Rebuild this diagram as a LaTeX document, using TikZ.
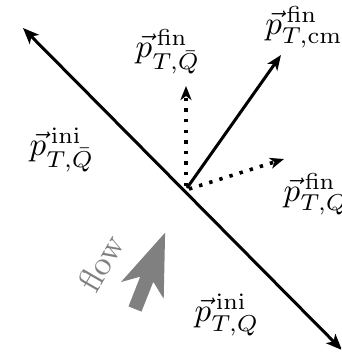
\documentclass[tikz,border=0pt]{standalone}
\usetikzlibrary{arrows.meta}
\definecolor{flowgray}{RGB}{128,128,128}
\tikzset{
  mainline/.style={line width=3pt, {Stealth[length=16pt,width=13pt,inset=4pt]}-{Stealth[length=16pt,width=13pt,inset=4pt]}},
  solidvec/.style={line width=3pt, -{Stealth[length=15pt,width=12pt,inset=4pt]}},
  dotvec/.style={line width=3.6pt, dash pattern=on 3.4pt off 7.2pt, -{Stealth[length=14pt,width=11pt,inset=4pt]}},
  lab/.style={inner sep=0pt, scale=3.3},
}
\begin{document}
\begin{tikzpicture}[x=1pt,y=-1pt]
\useasboundingbox (0,0) rectangle (341,354);
\clip (0,0) rectangle (341,354);
\coordinate (A) at (23,28);
\coordinate (B) at (342,350);
\coordinate (O) at (187,188);
\coordinate (Tcm) at (281,55);
\coordinate (Tup) at (186,86);
\coordinate (Tright) at (284,159);
\draw[mainline] (A) -- (B);
\draw[solidvec] (O) -- (Tcm);
\draw[dotvec] (186,186) -- (Tup);
\draw[dotvec] (189,189) -- (Tright);
% flow arrow
\fill[flowgray] (128.5,306.4) -- (140.2,276.7) -- (121.0,282.0) -- (165.1,232.7) -- (163.7,298.8) -- (153.3,281.8) -- (141.5,311.6) -- cycle;
\node[text=flowgray, rotate=60, scale=3.4, inner sep=0pt] (flow) at (101,263) {flow};
% labels
\node[lab] (pfinQb) at (168,52) {$\vec p^{\,\mathrm{fin}}_{T,\bar Q}$};
\node[lab] (pfincm) at (304,27) {$\vec p^{\,\mathrm{fin}}_{T,\mathrm{cm}}$};
\node[lab] (piniQb) at (62,150) {$\vec p^{\,\mathrm{ini}}_{T,\bar Q}$};
\node[lab] (pfinQ) at (316,194) {$\vec p^{\,\mathrm{fin}}_{T,Q}$};
\node[lab] (piniQ) at (227,315) {$\vec p^{\,\mathrm{ini}}_{T,Q}$};
\end{tikzpicture}
\end{document}
